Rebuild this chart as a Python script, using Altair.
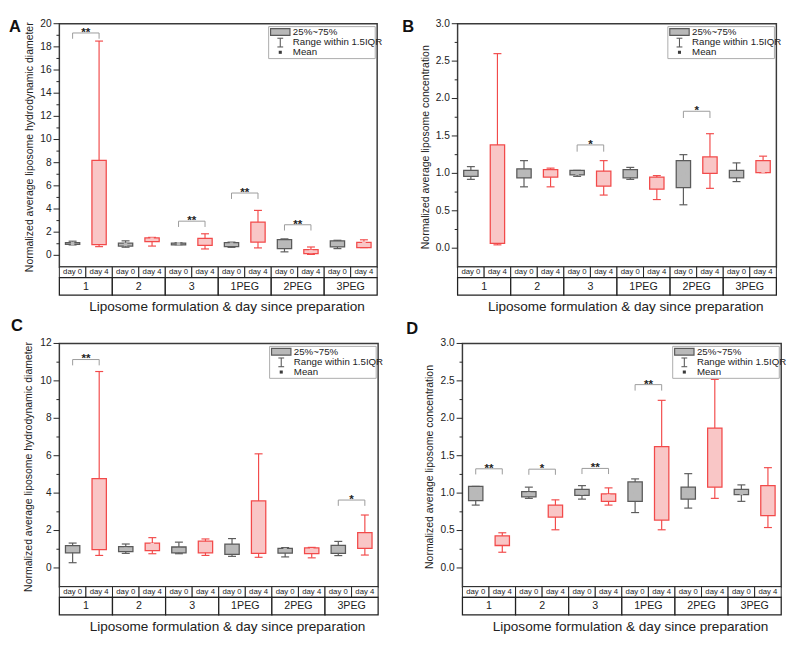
import altair as alt
import pandas as pd

groups = ["1", "2", "3", "1PEG", "2PEG", "3PEG"]
days = ["day 0", "day 4"]
x_title = "Liposome formulation & day since preparation"
legend_labels = ["25%~75%", "Range within 1.5IQR", "Mean"]

# ---- Panel A: normalized hydrodynamic diameter ----
a_lo   = [0.90, 0.75, 0.70, 0.80, 0.92, 0.55, 0.69, 0.64, 0.30, 0.08, 0.58, 0.67]
a_q1   = [0.95, 0.92, 0.80, 1.19, 0.90, 0.86, 0.75, 1.14, 0.58, 0.14, 0.72, 0.67]
a_q3   = [1.10, 8.20, 1.05, 1.50, 1.05, 1.47, 1.09, 2.87, 1.36, 0.50, 1.25, 1.11]
a_hi   = [1.22, 18.50, 1.25, 1.55, 1.08, 1.86, 1.14, 3.88, 1.42, 0.72, 1.30, 1.34]
a_mean = [1.02, 5.35, 0.94, 1.39, 1.00, 1.19, 0.97, 2.09, 0.97, 0.33, 0.98, 1.05]
a_br_group = [0, 2, 3, 4]
a_br_top   = [19.2, 2.95, 5.38, 2.64]
a_br_bot   = [18.7, 2.45, 4.87, 2.14]
a_br_label = ["**", "**", "**", "**"]

# ---- Panel B: normalized concentration ----
b_lo   = [0.92, 0.045, 0.82, 0.82, 0.96, 0.71, 0.92, 0.65, 0.58, 0.80, 0.89, 1.01]
b_q1   = [0.96, 0.065, 0.94, 0.95, 0.98, 0.83, 0.94, 0.79, 0.81, 1.00, 0.94, 1.01]
b_q3   = [1.04, 1.38, 1.06, 1.05, 1.04, 1.03, 1.05, 0.95, 1.17, 1.22, 1.04, 1.17]
b_hi   = [1.09, 2.60, 1.17, 1.07, 1.04, 1.17, 1.08, 0.97, 1.25, 1.53, 1.14, 1.23]
b_mean = [1.00, 0.90, 1.00, 1.01, 1.00, 0.94, 1.00, 0.87, 1.00, 1.18, 1.00, 1.03]
b_br_group = [2, 4]
b_br_top   = [1.38, 1.83]
b_br_bot   = [1.29, 1.74]
b_br_label = ["*", "*"]

# ---- Panel C: normalized hydrodynamic diameter ----
c_lo   = [0.28, 0.67, 0.78, 0.76, 0.76, 0.67, 0.62, 0.57, 0.59, 0.54, 0.66, 0.69]
c_q1   = [0.81, 0.98, 0.87, 0.92, 0.81, 0.81, 0.73, 0.78, 0.79, 0.76, 0.78, 1.05]
c_q3   = [1.19, 4.78, 1.14, 1.33, 1.12, 1.43, 1.28, 3.58, 1.05, 1.07, 1.21, 1.89]
c_hi   = [1.33, 10.50, 1.28, 1.62, 1.38, 1.55, 1.57, 6.10, 1.09, 1.10, 1.42, 2.83]
c_mean = [1.00, 3.14, 1.00, 1.24, 0.98, 1.10, 0.98, 1.97, 0.98, 0.97, 0.98, 1.49]
c_br_group = [0, 5]
c_br_top   = [11.14, 3.63]
c_br_bot   = [10.83, 3.32]
c_br_label = ["**", "*"]

# ---- Panel D: normalized concentration ----
d_lo   = [0.84, 0.21, 0.93, 0.51, 0.92, 0.84, 0.74, 0.51, 0.80, 0.93, 0.89, 0.54]
d_q1   = [0.90, 0.30, 0.95, 0.68, 0.97, 0.89, 0.89, 0.64, 0.92, 1.08, 0.98, 0.70]
d_q3   = [1.09, 0.43, 1.02, 0.84, 1.05, 0.99, 1.15, 1.62, 1.08, 1.87, 1.05, 1.10]
d_hi   = [1.09, 0.47, 1.08, 0.91, 1.10, 1.07, 1.19, 2.24, 1.26, 2.52, 1.11, 1.34]
d_mean = [1.00, 0.39, 0.99, 0.75, 1.00, 0.96, 1.00, 1.15, 1.00, 1.55, 1.00, 0.92]
d_br_group = [0, 1, 2, 3]
d_br_top   = [1.325, 1.32, 1.33, 2.45]
d_br_bot   = [1.25, 1.245, 1.255, 2.37]
d_br_label = ["**", "*", "**", "**"]

diam_title = "Normalized average liposome hydrodynamic diameter"
conc_title = "Normalized average liposome concentration"

# y-axis ticks and labels
maj_d20 = [0, 2, 4, 6, 8, 10, 12, 14, 16, 18, 20]
lab_d20 = ["0", "2", "4", "6", "8", "10", "12", "14", "16", "18", "20"]
min_d20 = [1, 3, 5, 7, 9, 11, 13, 15, 17, 19]
maj_d12 = [0, 2, 4, 6, 8, 10, 12]
lab_d12 = ["0", "2", "4", "6", "8", "10", "12"]
min_d12 = [1, 3, 5, 7, 9, 11]
maj_c = [0.0, 0.5, 1.0, 1.5, 2.0, 2.5, 3.0]
lab_c = ["0.0", "0.5", "1.0", "1.5", "2.0", "2.5", "3.0"]
min_c = [0.25, 0.75, 1.25, 1.75, 2.25, 2.75]

STROKE = ["#5a5a5a", "#f24a4a"]
FILL = ["#b9b9b9", "#f9c6c6"]
MEANC = ["#3a3a3a", "#e8262a"]
FONT = "Liberation Sans"
INK = "#222222"


def panel(letter, ytitle, ymin, ymax, majors, labels, minors,
          lo, q1, q3, hi, mean, br_g, br_top, br_bot, br_lab,
          W, H, letter_x, letter_y, title_x):
    xs = alt.Scale(domain=[0, 12], nice=False, zero=False)
    ys = alt.Scale(domain=[ymin, ymax], nice=False, zero=False)
    n = len(lo)
    box = pd.DataFrame({
        "i": list(range(n)),
        "day": [days[i % 2] for i in range(n)],
        "lo": lo, "q1": q1, "q3": q3, "hi": hi, "mean": mean,
    })
    base = alt.Chart(box).transform_calculate(
        xc="datum.i + 0.5", xl="datum.i + 0.23", xr="datum.i + 0.77",
        cl="datum.i + 0.35", cr="datum.i + 0.65")
    col = alt.Color("day:N", scale=alt.Scale(domain=days, range=STROKE), legend=None)
    fil = alt.Fill("day:N", scale=alt.Scale(domain=days, range=FILL), legend=None)
    stk = alt.Stroke("day:N", scale=alt.Scale(domain=days, range=STROKE), legend=None)
    mfil = alt.Fill("day:N", scale=alt.Scale(domain=days, range=MEANC), legend=None)

    whisk = base.mark_rule(strokeWidth=1.2).encode(
        x=alt.X("xc:Q", scale=xs, axis=None),
        y=alt.Y("lo:Q", scale=ys, axis=None), y2="hi:Q", color=col)
    cap_hi = base.mark_rule(strokeWidth=1.2).encode(
        x=alt.X("cl:Q", scale=xs, axis=None), x2="cr:Q",
        y=alt.Y("hi:Q", scale=ys, axis=None), color=col)
    cap_lo = base.mark_rule(strokeWidth=1.2).encode(
        x=alt.X("cl:Q", scale=xs, axis=None), x2="cr:Q",
        y=alt.Y("lo:Q", scale=ys, axis=None), color=col)
    rect = base.mark_rect(strokeWidth=1.3).encode(
        x=alt.X("xl:Q", scale=xs, axis=None), x2="xr:Q",
        y=alt.Y("q1:Q", scale=ys, axis=None), y2="q3:Q", fill=fil, stroke=stk)
    meanpt = base.mark_square(size=13, opacity=1).encode(
        x=alt.X("xc:Q", scale=xs, axis=None),
        y=alt.Y("mean:Q", scale=ys, axis=None), fill=mfil)

    br = pd.DataFrame({"g": br_g, "top": br_top, "bot": br_bot, "lab": br_lab})
    bb = alt.Chart(br).transform_calculate(
        x0="2 * datum.g + 0.5", x1="2 * datum.g + 1.5", xm="2 * datum.g + 1")
    bcol = "#9a9a9a"
    br_h = bb.mark_rule(color=bcol, strokeWidth=1).encode(
        x=alt.X("x0:Q", scale=xs, axis=None), x2="x1:Q",
        y=alt.Y("top:Q", scale=ys, axis=None))
    br_l = bb.mark_rule(color=bcol, strokeWidth=1).encode(
        x=alt.X("x0:Q", scale=xs, axis=None),
        y=alt.Y("top:Q", scale=ys, axis=None), y2="bot:Q")
    br_r = bb.mark_rule(color=bcol, strokeWidth=1).encode(
        x=alt.X("x1:Q", scale=xs, axis=None),
        y=alt.Y("top:Q", scale=ys, axis=None), y2="bot:Q")
    br_t = bb.mark_text(baseline="alphabetic", dy=3, fontSize=12, fontWeight="bold",
                        color=INK).encode(
        x=alt.X("xm:Q", scale=xs, axis=None),
        y=alt.Y("top:Q", scale=ys, axis=None), text="lab:N")

    # y axis drawn by hand: major ticks, labels, minor ticks, title
    mj = alt.Chart(pd.DataFrame({"v": majors, "lab": labels}))
    maj_t = mj.mark_rule(color=INK, strokeWidth=1).encode(
        y=alt.Y("v:Q", scale=ys, axis=None), x=alt.value(0), x2=alt.value(-6))
    maj_l = mj.mark_text(align="right", baseline="middle", fontSize=10.5, color=INK).encode(
        y=alt.Y("v:Q", scale=ys, axis=None), x=alt.value(-8), text="lab:N")
    mt = alt.Chart(pd.DataFrame({"v": minors})).mark_rule(color=INK, strokeWidth=1).encode(
        y=alt.Y("v:Q", scale=ys, axis=None), x=alt.value(0), x2=alt.value(-3))
    yt = alt.Chart(pd.DataFrame({"t": [ytitle]})).mark_text(
        angle=270, fontSize=10.8, baseline="middle", align="center", color=INK).encode(
        x=alt.value(title_x), y=alt.value(H / 2 + 2), text="t:N")

    # category table under the plot
    cells = pd.DataFrame({"i": list(range(12)), "lab": [days[i % 2] for i in range(12)]})
    cb = alt.Chart(cells).transform_calculate(
        x0="datum.i", x1="datum.i + 1", xc="datum.i + 0.5")
    day_rect = cb.mark_rect(fill="white", stroke=INK, strokeWidth=1).encode(
        x=alt.X("x0:Q", scale=xs, axis=None), x2="x1:Q",
        y=alt.value(H), y2=alt.value(H + 11))
    day_txt = cb.mark_text(fontSize=8, color=INK).encode(
        x=alt.X("xc:Q", scale=xs, axis=None), y=alt.value(H + 5.5), text="lab:N")
    gdf = pd.DataFrame({"g": list(range(len(groups))), "lab": groups})
    gb = alt.Chart(gdf).transform_calculate(
        x0="2 * datum.g", x1="2 * datum.g + 2", xc="2 * datum.g + 1")
    g_rect = gb.mark_rect(fill="white", stroke=INK, strokeWidth=1.3).encode(
        x=alt.X("x0:Q", scale=xs, axis=None), x2="x1:Q",
        y=alt.value(H + 11), y2=alt.value(H + 29))
    g_txt = gb.mark_text(fontSize=11, color=INK).encode(
        x=alt.X("xc:Q", scale=xs, axis=None), y=alt.value(H + 20.5), text="lab:N")

    xt = alt.Chart(pd.DataFrame({"t": [x_title]})).mark_text(fontSize=14, color=INK).encode(
        x=alt.value(W / 2 + 9), y=alt.value(H + 42), text="t:N")
    lt = alt.Chart(pd.DataFrame({"t": [letter]})).mark_text(
        fontSize=17, fontWeight="bold", align="left", baseline="top", color="#111").encode(
        x=alt.value(letter_x), y=alt.value(letter_y), text="t:N")

    # legend box drawn inside the plot, top right
    one = alt.Chart(pd.DataFrame({"k": [0]}))
    L = W - 112
    leg_box = one.mark_rect(fill="white", stroke="#aaaaaa", strokeWidth=1).encode(
        x=alt.value(L), x2=alt.value(W - 2), y=alt.value(3), y2=alt.value(36))
    leg_sw = one.mark_rect(fill=FILL[0], stroke=STROKE[0], strokeWidth=1.2).encode(
        x=alt.value(L + 2), x2=alt.value(L + 22), y=alt.value(5), y2=alt.value(12))
    leg_wv = one.mark_rule(color=STROKE[0], strokeWidth=1.1).encode(
        x=alt.value(L + 12), y=alt.value(15), y2=alt.value(24))
    leg_c1 = one.mark_rule(color=STROKE[0], strokeWidth=1.1).encode(
        x=alt.value(L + 9), x2=alt.value(L + 15), y=alt.value(15))
    leg_c2 = one.mark_rule(color=STROKE[0], strokeWidth=1.1).encode(
        x=alt.value(L + 9), x2=alt.value(L + 15), y=alt.value(24))
    leg_m = one.mark_square(size=10, color=MEANC[0], opacity=1).encode(
        x=alt.value(L + 12), y=alt.value(29.5))
    leg_texts = []
    for k, lab in enumerate(legend_labels):
        leg_texts.append(
            alt.Chart(pd.DataFrame({"t": [lab]})).mark_text(
                fontSize=10, align="left", baseline="middle", color=INK).encode(
                x=alt.value(L + 25), y=alt.value(8.5 + 10.5 * k), text="t:N"))

    return alt.layer(
        whisk, cap_hi, cap_lo, rect, meanpt,
        br_h, br_l, br_r, br_t, maj_t, maj_l, mt, yt,
        day_rect, g_rect, day_txt, g_txt, xt, lt,
        leg_box, leg_sw, leg_wv, leg_c1, leg_c2, leg_m, *leg_texts,
    ).properties(width=W, height=H)


pA = panel("A", diam_title, -1, 20, maj_d20, lab_d20, min_d20,
           a_lo, a_q1, a_q3, a_hi, a_mean, a_br_group, a_br_top, a_br_bot, a_br_label,
           328, 251, -52, -4, -30)
pB = panel("B", conc_title, -0.25, 3.0, maj_c, lab_c, min_c,
           b_lo, b_q1, b_q3, b_hi, b_mean, b_br_group, b_br_top, b_br_bot, b_br_label,
           329, 251, -57, -4, -32)
pC = panel("C", diam_title, -1, 12, maj_d12, lab_d12, min_d12,
           c_lo, c_q1, c_q3, c_hi, c_mean, c_br_group, c_br_top, c_br_bot, c_br_label,
           329, 251, -50, -26, -31)
pD = panel("D", conc_title, -0.25, 3.0, maj_c, lab_c, min_c,
           d_lo, d_q1, d_q3, d_hi, d_mean, d_br_group, d_br_top, d_br_bot, d_br_label,
           329, 251, -58, -23, -33)

row1 = alt.hconcat(pA, pB, spacing=18)
row2 = alt.hconcat(pC, pD, spacing=21)

chart = alt.vconcat(row1, row2, spacing=1).properties(
    padding=0, background="white"
).configure_view(
    stroke="#3a3a3a", strokeWidth=1.5
).configure_text(font=FONT)

chart.save("out.html", embed_options={"renderer": "svg", "actions": False})
